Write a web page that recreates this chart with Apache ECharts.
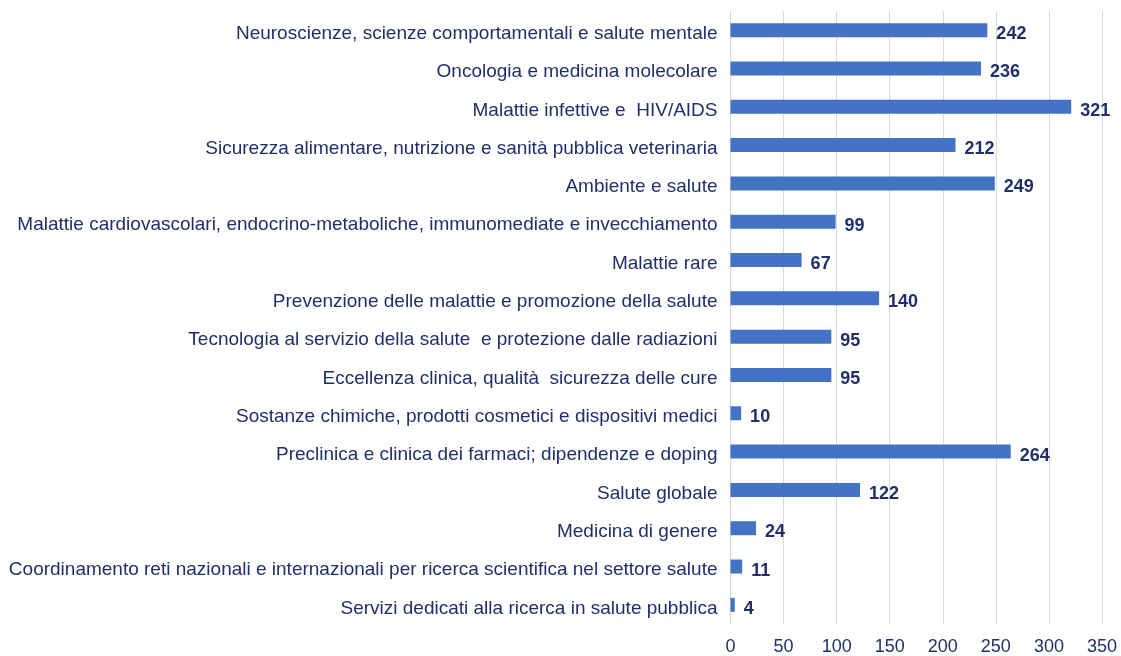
<!DOCTYPE html>
<html>
<head>
<meta charset="utf-8">
<script src="https://cdn.jsdelivr.net/npm/echarts@6/dist/echarts.min.js"></script>
<style>
  html, body { margin: 0; padding: 0; background: #fff; }
  #chart { width: 1121px; height: 656px; }
</style>
</head>
<body>
<div id="chart"></div>
<script>
const categories = [
  'Neuroscienze, scienze comportamentali e salute mentale',
  'Oncologia e medicina molecolare',
  'Malattie infettive e  HIV/AIDS',
  'Sicurezza alimentare, nutrizione e sanità pubblica veterinaria',
  'Ambiente e salute',
  'Malattie cardiovascolari, endocrino-metaboliche, immunomediate e invecchiamento',
  'Malattie rare',
  'Prevenzione delle malattie e promozione della salute',
  'Tecnologia al servizio della salute  e protezione dalle radiazioni',
  'Eccellenza clinica, qualità  sicurezza delle cure',
  'Sostanze chimiche, prodotti cosmetici e dispositivi medici',
  'Preclinica e clinica dei farmaci; dipendenze e doping',
  'Salute globale',
  'Medicina di genere',
  'Coordinamento reti nazionali e internazionali per ricerca scientifica nel settore salute',
  'Servizi dedicati alla ricerca in salute pubblica'
];
const values = [242, 236, 321, 212, 249, 99, 67, 140, 95, 95, 10, 264, 122, 24, 11, 4];

const navy = '#1f3069';
let chart = echarts.init(document.getElementById('chart'));
let option = {
  animation: false,
  textStyle: { fontFamily: 'Liberation Sans, Arial, sans-serif' },
  grid: { left: 730.5, right: 19, top: 11, bottom: 31 },
  xAxis: {
    type: 'value',
    min: 0,
    max: 350,
    interval: 50,
    axisLine: { show: false },
    axisTick: { show: false },
    splitLine: { lineStyle: { color: '#d9d9d9', width: 1 } },
    axisLabel: { color: navy, fontSize: 18, margin: 14 }
  },
  yAxis: {
    type: 'category',
    inverse: true,
    data: categories,
    axisLine: { show: false },
    axisTick: { show: false },
    axisLabel: {
      color: navy,
      fontSize: 19,
      margin: 13,
      formatter: function (v) { return '{c|' + v + '}'; },
      rich: { c: { color: navy, fontSize: 19, padding: [7, 0, 0, 0] } }
    }
  },
  series: [{
    type: 'bar',
    data: values,
    barWidth: 14,
    itemStyle: { color: '#4472c4' },
    label: {
      show: true,
      position: 'right',
      distance: 9,
      offset: [0, 4],
      color: navy,
      fontSize: 18,
      fontWeight: 'bold'
    }
  }]
};
chart.setOption(option);
</script>
</body>
</html>
